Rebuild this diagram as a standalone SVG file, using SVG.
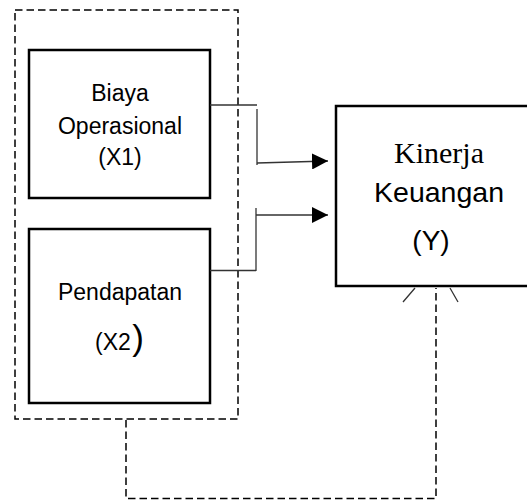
<svg xmlns="http://www.w3.org/2000/svg" width="527" height="501" viewBox="0 0 527 501">
<defs>
<marker id="arr" markerWidth="16" markerHeight="16" refX="16" refY="8" orient="auto" markerUnits="userSpaceOnUse">
<path d="M0,0 L16,8 L0,16 Z" fill="#000"/>
</marker>
<style>
.box{fill:#fff;stroke:#000;stroke-width:2.5}
.dash{fill:none;stroke:#000;stroke-width:1.5;stroke-dasharray:7.5 4}
.ln{fill:none;stroke:#333;stroke-width:1.3}
.sans{font-family:"Liberation Sans","DejaVu Sans",sans-serif;fill:#000;text-anchor:middle}
.serif{font-family:"Liberation Serif","DejaVu Serif",serif;fill:#000;text-anchor:middle}
</style>
</defs>
<rect width="527" height="501" fill="#fff"/>
<g id="group-x">
<rect class="dash" x="15" y="10" width="223" height="409"/>
</g>
<g id="x1">
<rect class="box" x="29" y="50" width="181" height="148"/>
<text class="sans" font-size="23" x="120" y="101">Biaya</text>
<text class="sans" font-size="23" x="120" y="134">Operasional</text>
<text class="sans" font-size="23" x="120" y="165">(X1)</text>
</g>
<g id="x2">
<rect class="box" x="29" y="229" width="181" height="174"/>
<text class="sans" font-size="23" x="113" y="350">(X2</text>
<text class="sans" font-size="23" x="120" y="300">Pendapatan</text>
<text class="sans" font-size="35" x="138" y="350">)</text>
</g>
<g id="y">
<rect class="box" x="336" y="106" width="205" height="180"/>
<text class="serif" font-size="30" x="439" y="163">Kinerja</text>
<text class="sans" font-size="28.5" x="439" y="202">Keuangan</text>
<text class="sans" font-size="28" x="431" y="250">(Y)</text>
</g>
<g id="connectors">
<path class="ln" d="M210,105 H257"/>
<path class="ln" d="M257,109 V165"/>
<path class="ln" d="M257,163 L328,161" marker-end="url(#arr)"/>
<path class="ln" d="M210,270.5 H256"/>
<path class="ln" d="M256,208 V271"/>
<path class="ln" d="M256,215 H328" marker-end="url(#arr)"/>
<path class="dash" d="M126,420 V498.5 H436 V288"/>
<path class="ln" d="M415,288 L403,302 M450,288 L458,302"/>
</g>
</svg>
